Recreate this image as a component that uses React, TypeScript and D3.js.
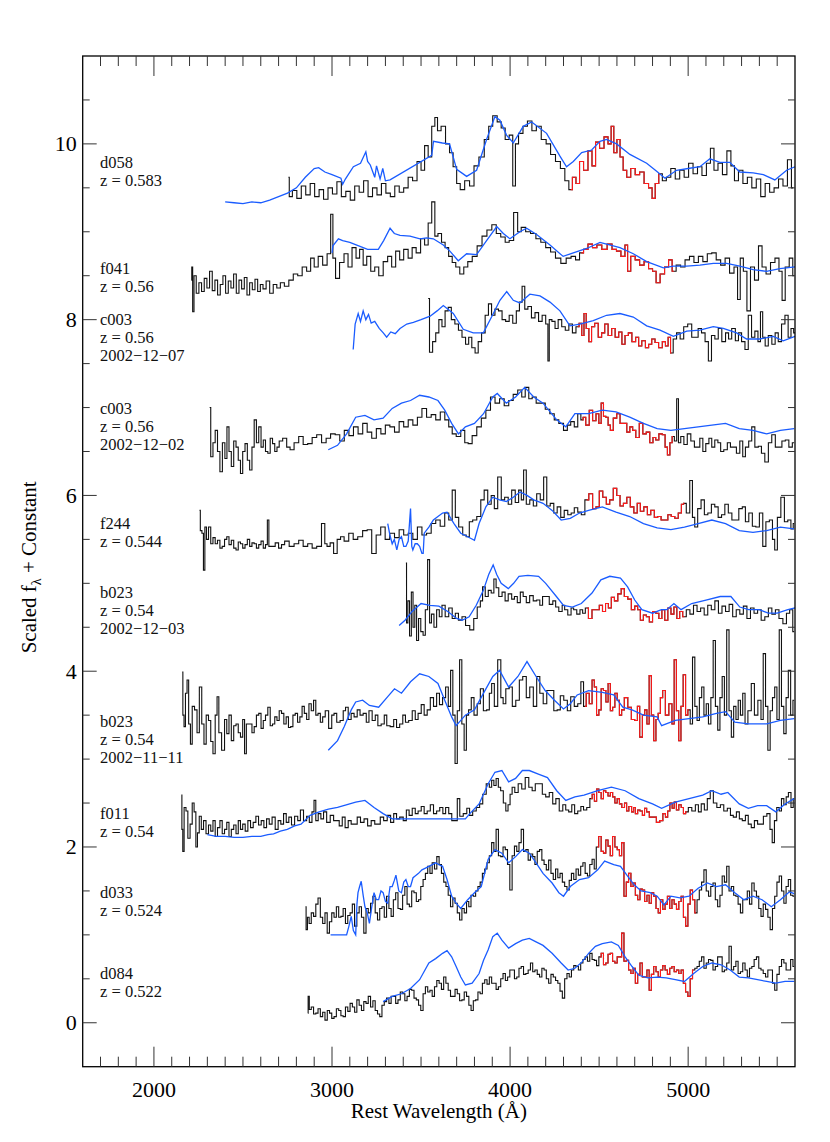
import React from 'react';
import * as d3 from 'd3';

// observed spectra (black, red inside the marked window) and fitted templates (blue)
// each point: [rest wavelength in Å, scaled flux + constant]

const d058Obs = [[2755,9.62],[2765,9.4],[2790,9.47],[2815,9.38],[2840,9.52],[2865,9.42],[2890,9.55],[2915,9.4],[2940,9.48],[2965,9.37],[2990,9.5],[3015,9.43],[3040,9.57],[3065,9.4],[3090,9.46],[3115,9.36],[3140,9.52],[3165,9.45],[3190,9.58],[3215,9.4],[3240,9.5],[3265,9.42],[3290,9.55],[3315,9.44],[3340,9.4],[3365,9.52],[3390,9.45],[3415,9.5],[3440,9.62],[3465,9.58],[3490,9.8],[3510,9.7],[3530,9.98],[3550,9.85],[3570,10.2],[3585,10.3],[3600,10.15],[3625,10.2],[3650,10.0],[3670,9.9],[3690,9.74],[3710,9.55],[3730,9.48],[3760,9.58],[3785,9.52],[3810,9.75],[3840,9.85],[3870,10.05],[3890,10.2],[3915,10.32],[3940,10.25],[3960,10.18],[3985,10.05],[4005,10.1],[4025,9.52],[4035,10.0],[4060,10.12],[4085,10.2],[4110,10.26],[4135,10.15],[4160,10.2],[4190,10.05],[4215,10.0],[4240,9.88],[4270,9.8],[4295,9.72],[4320,9.58],[4340,9.48],[4360,9.62],[4380,9.55],[4400,9.8],[4425,9.7],[4450,9.92],[4470,9.75],[4490,10.02],[4515,9.95],[4540,10.08],[4560,10.0],[4575,10.2],[4590,9.9],[4610,10.05],[4625,9.85],[4645,9.7],[4665,9.62],[4690,9.72],[4715,9.65],[4740,9.68],[4765,9.55],[4790,9.5],[4805,9.38],[4825,9.55],[4845,9.66],[4865,9.58],[4890,9.62],[4915,9.72],[4940,9.6],[4965,9.7],[4990,9.62],[5015,9.78],[5040,9.66],[5065,9.74],[5090,9.64],[5115,9.78],[5135,9.95],[5155,9.7],[5180,9.78],[5205,9.65],[5230,9.92],[5250,9.75],[5270,9.58],[5295,9.7],[5320,9.55],[5345,9.62],[5370,9.5],[5395,9.6],[5420,9.4],[5445,9.55],[5470,9.45],[5495,9.5],[5520,9.6],[5545,9.52],[5570,9.82],[5590,9.5]];
const d058Model = [[2400,9.34],[2450,9.33],[2500,9.32],[2550,9.34],[2600,9.33],[2650,9.36],[2700,9.4],[2750,9.44],[2800,9.5],[2850,9.62],[2900,9.72],[2925,9.73],[2960,9.68],[3000,9.65],[3050,9.61],[3060,9.54],[3075,9.6],[3120,9.74],[3160,9.78],[3190,9.91],[3200,9.8],[3215,9.76],[3240,9.62],[3250,9.75],[3270,9.6],[3285,9.72],[3300,9.58],[3326,9.59],[3560,9.87],[3570,10.03],[3620,10.01],[3660,10.0],[3700,9.71],[3756,9.63],[3812,9.7],[3868,10.05],[3915,10.31],[3943,10.27],[3980,10.1],[4018,10.01],[4074,10.2],[4121,10.25],[4205,10.12],[4280,9.86],[4317,9.74],[4355,9.8],[4402,9.9],[4458,9.93],[4505,10.03],[4542,10.05],[4598,10.0],[4673,9.88],[4767,9.78],[4823,9.69],[4870,9.61],[4935,9.7],[5000,9.72],[5066,9.74],[5122,9.83],[5178,9.79],[5234,9.79],[5290,9.68],[5365,9.67],[5422,9.65],[5487,9.59],[5553,9.7],[5600,9.74]];

const f041Obs = [[2210,8.45],[2215,8.6],[2220,8.09],[2230,8.5],[2245,8.3],[2260,8.42],[2275,8.32],[2290,8.47],[2305,8.36],[2320,8.55],[2335,8.33],[2350,8.45],[2365,8.28],[2380,8.4],[2395,8.5],[2410,8.3],[2425,8.44],[2440,8.36],[2455,8.52],[2470,8.3],[2485,8.45],[2500,8.35],[2515,8.48],[2530,8.28],[2545,8.42],[2560,8.34],[2575,8.46],[2590,8.32],[2605,8.4],[2620,8.35],[2640,8.44],[2660,8.3],[2680,8.4],[2700,8.36],[2720,8.42],[2745,8.38],[2770,8.45],[2795,8.52],[2820,8.5],[2845,8.6],[2870,8.55],[2890,8.7],[2910,8.6],[2935,8.72],[2960,8.62],[2985,8.75],[3000,9.2],[3010,8.7],[3030,8.47],[3055,8.65],[3080,8.75],[3100,8.6],[3125,8.82],[3145,8.7],[3165,8.8],[3185,8.62],[3205,8.72],[3230,8.55],[3250,8.6],[3275,8.5],[3300,8.66],[3325,8.72],[3345,8.6],[3370,8.78],[3390,8.68],[3415,8.8],[3440,8.7],[3460,8.82],[3485,8.76],[3510,8.92],[3530,8.85],[3550,9.1],[3570,9.34],[3585,8.95],[3605,8.98],[3625,8.88],[3645,8.82],[3665,8.72],[3685,8.65],[3705,8.6],[3730,8.52],[3750,8.6],[3775,8.66],[3800,8.72],[3830,8.84],[3855,8.95],[3885,9.02],[3910,9.08],[3935,8.98],[3960,8.94],[3985,8.88],[4005,8.9],[4035,9.22],[4050,9.0],[4075,9.05],[4100,9.0],[4130,8.98],[4160,8.92],[4185,8.88],[4215,8.82],[4240,8.77],[4270,8.7],[4300,8.64],[4330,8.7],[4355,8.72],[4380,8.68],[4400,8.76],[4425,8.8],[4450,8.86],[4475,8.82],[4500,8.85],[4530,8.8],[4560,8.86],[4585,8.8],[4610,8.78],[4635,8.72],[4655,8.85],[4665,8.55],[4690,8.72],[4715,8.68],[4740,8.62],[4765,8.66],[4790,8.58],[4810,8.55],[4830,8.42],[4855,8.52],[4880,8.6],[4900,8.68],[4920,8.55],[4945,8.62],[4970,8.6],[4995,8.68],[5020,8.72],[5045,8.65],[5070,8.72],[5095,8.66],[5120,8.75],[5145,8.76],[5170,8.68],[5195,8.62],[5220,8.7],[5245,8.53],[5270,8.6],[5285,8.23],[5300,8.7],[5320,8.55],[5340,8.1],[5360,8.6],[5385,8.45],[5405,8.84],[5425,8.6],[5450,8.52],[5475,8.65],[5500,8.7],[5520,8.55],[5535,8.22],[5555,8.6],[5580,8.7],[5595,8.5]];
const f041Model = [[3000,8.76],[3005,8.84],[3036,8.92],[3060,8.9],[3100,8.88],[3150,8.84],[3200,8.8],[3260,8.8],[3290,8.9],[3326,9.04],[3350,8.98],[3382,8.96],[3438,8.95],[3494,8.92],[3531,8.93],[3569,8.92],[3625,8.85],[3662,8.78],[3709,8.67],[3756,8.75],[3812,8.74],[3868,8.9],[3925,9.06],[3962,8.98],[3999,8.92],[4055,9.0],[4093,9.04],[4149,8.97],[4224,8.85],[4298,8.72],[4355,8.76],[4430,8.81],[4505,8.88],[4542,8.86],[4617,8.82],[4692,8.75],[4767,8.66],[4861,8.59],[4917,8.61],[4992,8.61],[5066,8.62],[5141,8.64],[5216,8.64],[5290,8.61],[5365,8.57],[5440,8.55],[5515,8.58],[5600,8.6]];

const c003bObs = [[3540,8.24],[3555,7.63],[3575,7.75],[3590,7.85],[3610,8.0],[3625,7.92],[3645,8.1],[3660,8.14],[3680,8.0],[3700,7.95],[3720,7.88],[3740,7.8],[3760,7.72],[3775,7.8],[3795,7.68],[3812,7.62],[3830,7.75],[3850,7.85],[3870,8.05],[3887,8.18],[3905,8.05],[3925,8.12],[3945,8.1],[3965,8.0],[3985,7.98],[4005,8.05],[4025,7.96],[4045,8.1],[4060,8.2],[4075,8.38],[4090,8.12],[4110,8.15],[4130,8.02],[4150,8.08],[4170,7.98],[4190,8.05],[4210,7.95],[4215,7.53],[4225,8.0],[4245,7.98],[4260,7.9],[4280,8.0],[4300,7.92],[4320,7.88],[4340,7.95],[4360,7.85],[4380,7.92],[4395,7.96],[4410,7.82],[4420,8.07],[4435,7.9],[4450,7.75],[4465,7.92],[4485,7.96],[4505,7.8],[4523,7.85],[4540,7.95],[4561,7.82],[4580,7.9],[4600,7.8],[4620,7.86],[4636,7.72],[4655,7.82],[4673,7.85],[4695,7.75],[4715,7.8],[4729,7.7],[4750,7.76],[4770,7.68],[4786,7.72],[4805,7.78],[4823,7.74],[4845,7.68],[4865,7.75],[4880,7.7],[4895,7.8],[4907,7.62],[4925,7.78],[4945,7.85],[4965,7.78],[4985,7.92],[5010,7.95],[5030,7.8],[5047,7.8],[5065,7.9],[5085,7.85],[5105,7.75],[5122,7.53],[5140,7.82],[5160,7.78],[5178,7.9],[5200,7.75],[5220,7.85],[5234,7.78],[5255,7.9],[5275,7.76],[5290,7.85],[5310,7.75],[5328,7.66],[5347,8.05],[5365,7.8],[5384,7.87],[5400,7.75],[5412,8.09],[5425,7.8],[5440,7.7],[5460,7.82],[5480,7.72],[5497,7.85],[5515,7.75],[5534,7.95],[5553,8.05],[5570,7.8],[5585,7.9],[5600,7.85]];
const c003bModel = [[3119,7.66],[3130,7.95],[3147,8.07],[3160,7.98],[3175,8.1],[3190,8.0],[3205,8.06],[3220,7.96],[3240,7.98],[3265,7.9],[3288,7.85],[3307,7.8],[3330,7.86],[3355,7.84],[3382,7.9],[3420,7.95],[3457,7.97],[3500,8.0],[3551,8.04],[3590,8.1],[3625,8.16],[3681,8.07],[3737,7.89],[3793,7.85],[3850,7.85],[3906,8.07],[3943,8.22],[3981,8.32],[4018,8.22],[4055,8.19],[4111,8.29],[4168,8.27],[4224,8.2],[4280,8.1],[4336,7.93],[4392,7.95],[4467,7.99],[4542,8.05],[4617,8.07],[4692,8.03],[4767,7.93],[4842,7.88],[4917,7.81],[4992,7.87],[5066,7.88],[5141,7.92],[5197,7.9],[5272,7.85],[5328,7.78],[5403,7.78],[5478,7.81],[5534,7.76],[5600,7.81]];

const c003aObs = [[2313,7.0],[2325,6.44],[2338,6.6],[2350,6.74],[2364,6.5],[2377,6.27],[2392,6.6],[2405,6.42],[2415,6.78],[2428,6.5],[2441,6.33],[2455,6.62],[2467,6.55],[2480,6.4],[2492,6.25],[2505,6.5],[2518,6.59],[2531,6.4],[2544,6.29],[2557,6.55],[2569,6.86],[2582,6.6],[2595,6.78],[2608,6.55],[2620,6.63],[2633,6.5],[2646,6.48],[2660,6.65],[2672,6.59],[2685,6.5],[2697,6.55],[2710,6.62],[2736,6.65],[2755,6.55],[2774,6.52],[2800,6.6],[2826,6.67],[2850,6.58],[2877,6.59],[2900,6.66],[2928,6.69],[2955,6.6],[2979,6.65],[3005,6.7],[3031,6.69],[3056,6.62],[3082,6.74],[3108,6.68],[3133,6.78],[3160,6.7],[3185,6.82],[3210,6.72],[3236,6.65],[3262,6.76],[3287,6.7],[3312,6.8],[3338,6.78],[3364,6.72],[3390,6.84],[3415,6.78],[3441,6.86],[3467,6.8],[3492,6.89],[3518,6.99],[3544,6.89],[3570,6.92],[3595,6.86],[3621,6.95],[3646,6.86],[3665,6.78],[3685,6.7],[3710,6.67],[3736,6.74],[3755,6.6],[3774,6.59],[3800,6.68],[3826,6.78],[3851,6.88],[3877,6.97],[3903,7.12],[3928,7.05],[3954,7.1],[3980,7.02],[4005,7.08],[4030,7.15],[4056,7.2],[4075,7.12],[4095,7.23],[4115,7.1],[4133,7.12],[4160,7.05],[4185,7.05],[4210,6.98],[4236,6.93],[4260,6.86],[4287,6.82],[4313,6.74],[4330,6.8],[4351,6.84],[4370,6.78],[4390,6.93],[4405,6.86],[4415,6.89],[4435,6.8],[4454,6.97],[4473,6.85],[4492,6.93],[4505,6.82],[4518,7.05],[4531,6.9],[4544,6.89],[4557,6.8],[4569,6.74],[4590,6.88],[4608,6.93],[4627,6.82],[4646,6.82],[4665,6.72],[4680,6.78],[4697,6.74],[4715,6.66],[4736,6.82],[4755,6.7],[4774,6.72],[4795,6.6],[4810,6.66],[4826,6.63],[4845,6.7],[4864,6.69],[4877,6.55],[4890,6.46],[4905,6.6],[4915,6.67],[4930,6.62],[4941,7.1],[4950,6.6],[4967,6.67],[4985,6.58],[5005,6.7],[5025,6.62],[5045,6.55],[5056,6.55],[5075,6.65],[5090,6.5],[5108,6.59],[5125,6.65],[5140,6.55],[5159,6.63],[5175,6.6],[5190,6.5],[5210,6.52],[5230,6.6],[5245,6.55],[5262,6.55],[5280,6.48],[5300,6.62],[5313,6.44],[5330,6.55],[5350,6.62],[5364,6.78],[5385,6.55],[5403,6.56],[5420,6.48],[5441,6.38],[5460,6.6],[5479,6.69],[5500,6.55],[5518,6.55],[5535,6.62],[5556,6.63],[5575,6.55],[5595,6.6]];
const c003aModel = [[2979,6.52],[3031,6.57],[3082,6.7],[3133,6.89],[3185,6.91],[3236,6.86],[3287,6.88],[3338,6.99],[3390,7.05],[3441,7.08],[3492,7.14],[3544,7.12],[3595,7.08],[3633,6.97],[3672,6.82],[3710,6.7],[3749,6.78],[3800,6.82],[3851,6.93],[3903,7.12],[3928,7.16],[3979,7.05],[4031,7.12],[4082,7.23],[4133,7.12],[4185,7.05],[4262,6.86],[4313,6.78],[4364,6.93],[4441,6.93],[4518,6.97],[4595,6.95],[4672,6.89],[4749,6.82],[4826,6.76],[4903,6.74],[4979,6.76],[5056,6.78],[5133,6.8],[5210,6.82],[5287,6.76],[5364,6.74],[5441,6.7],[5518,6.74],[5595,6.76]];

const f244Obs = [[2256,5.83],[2265,5.6],[2274,5.57],[2282,5.15],[2290,5.64],[2300,5.5],[2313,5.64],[2325,5.45],[2338,5.52],[2350,5.45],[2364,5.49],[2377,5.4],[2390,5.42],[2403,5.5],[2415,5.53],[2428,5.44],[2441,5.49],[2455,5.4],[2467,5.38],[2480,5.47],[2492,5.45],[2505,5.4],[2518,5.44],[2531,5.5],[2544,5.42],[2557,5.46],[2569,5.45],[2582,5.4],[2595,5.44],[2608,5.48],[2620,5.4],[2633,5.44],[2641,5.72],[2650,5.42],[2672,5.42],[2690,5.46],[2710,5.4],[2723,5.44],[2745,5.48],[2774,5.42],[2800,5.45],[2826,5.49],[2850,5.42],[2877,5.45],[2900,5.4],[2928,5.42],[2954,5.68],[2965,5.45],[2979,5.42],[3000,5.46],[3018,5.34],[3040,5.5],[3056,5.53],[3080,5.48],[3108,5.57],[3130,5.5],[3159,5.53],[3185,5.6],[3210,5.61],[3236,5.34],[3260,5.55],[3287,5.64],[3310,5.5],[3338,5.57],[3364,5.52],[3390,5.61],[3415,5.55],[3441,5.57],[3467,5.5],[3492,5.64],[3518,5.55],[3544,5.57],[3570,5.68],[3595,5.72],[3620,5.65],[3646,5.8],[3665,5.72],[3685,6.06],[3700,5.75],[3723,5.64],[3745,5.55],[3762,5.53],[3780,5.7],[3800,5.72],[3826,5.76],[3845,5.95],[3864,6.06],[3885,5.9],[3903,6.0],[3920,5.85],[3941,6.21],[3960,5.95],[3979,5.98],[4000,5.9],[4018,6.06],[4040,5.92],[4056,6.06],[4070,5.95],[4082,6.29],[4100,5.9],[4121,5.95],[4140,5.88],[4159,6.02],[4180,5.95],[4197,6.21],[4215,5.88],[4236,5.91],[4255,5.8],[4274,5.87],[4295,5.75],[4313,5.83],[4335,5.78],[4351,5.8],[4370,5.86],[4390,5.81],[4410,5.78],[4430,5.95],[4454,6.02],[4473,5.85],[4492,5.87],[4510,6.05],[4531,5.98],[4550,5.9],[4569,5.95],[4590,6.08],[4608,6.0],[4627,5.88],[4646,5.91],[4665,5.98],[4685,5.87],[4705,5.8],[4723,5.91],[4740,5.82],[4762,5.87],[4780,5.78],[4800,5.83],[4820,5.75],[4838,5.76],[4858,5.72],[4877,5.72],[4895,5.78],[4915,5.76],[4935,5.74],[4954,5.8],[4970,5.9],[4979,5.91],[5000,5.8],[5018,6.17],[5030,5.75],[5044,5.64],[5063,5.85],[5082,5.95],[5100,5.78],[5121,5.8],[5140,5.9],[5159,5.87],[5178,5.75],[5197,5.78],[5215,5.9],[5236,5.8],[5255,5.72],[5274,5.72],[5295,5.85],[5313,5.87],[5330,5.7],[5351,5.8],[5370,5.65],[5390,5.64],[5410,5.8],[5428,5.42],[5445,5.7],[5467,5.72],[5480,5.5],[5492,5.38],[5510,5.75],[5531,5.98],[5550,5.7],[5569,5.72],[5585,5.62],[5595,5.68]];
const f244Model = [[3313,5.68],[3325,5.55],[3338,5.45],[3350,5.5],[3364,5.38],[3377,5.5],[3390,5.53],[3403,5.42],[3415,5.42],[3428,5.48],[3441,5.85],[3448,5.42],[3454,5.38],[3467,5.45],[3479,5.45],[3492,5.42],[3505,5.34],[3512,5.34],[3518,5.57],[3544,5.64],[3569,5.72],[3595,5.76],[3621,5.8],[3646,5.81],[3685,5.68],[3723,5.57],[3762,5.53],[3800,5.49],[3826,5.68],[3864,5.87],[3903,5.98],[3941,5.95],[3979,5.93],[4018,5.98],[4056,6.04],[4095,6.0],[4133,5.95],[4185,5.91],[4236,5.83],[4287,5.72],[4338,5.74],[4390,5.8],[4441,5.83],[4518,5.87],[4595,5.81],[4672,5.76],[4749,5.68],[4826,5.63],[4903,5.61],[4979,5.64],[5056,5.68],[5133,5.72],[5210,5.68],[5287,5.6],[5364,5.58],[5441,5.6],[5518,5.64],[5595,5.62]];

const b023aObs = [[3415,5.23],[3422,4.55],[3430,4.8],[3441,4.4],[3450,4.9],[3460,4.5],[3470,4.75],[3480,4.35],[3492,4.6],[3505,4.45],[3518,4.41],[3530,4.7],[3544,5.27],[3552,4.55],[3565,4.65],[3580,4.5],[3595,4.7],[3610,4.62],[3625,4.75],[3646,4.62],[3665,4.72],[3685,4.6],[3700,4.66],[3720,4.58],[3740,4.62],[3760,4.52],[3787,4.47],[3805,4.6],[3826,4.73],[3840,4.8],[3851,4.96],[3870,4.85],[3885,4.92],[3903,4.89],[3915,5.05],[3928,4.95],[3945,4.85],[3965,4.9],[3979,4.8],[4000,4.88],[4018,4.82],[4031,4.85],[4050,4.78],[4065,4.9],[4082,4.85],[4100,4.78],[4120,4.86],[4140,4.8],[4159,4.81],[4175,4.75],[4190,4.85],[4210,4.85],[4230,4.76],[4250,4.8],[4262,4.73],[4285,4.68],[4300,4.75],[4313,4.7],[4335,4.64],[4350,4.72],[4364,4.7],[4385,4.65],[4400,4.7],[4415,4.66],[4430,4.72],[4450,4.6],[4470,4.7],[4492,4.7],[4510,4.75],[4528,4.68],[4544,4.77],[4560,4.72],[4577,4.84],[4595,4.8],[4615,4.88],[4633,4.94],[4650,4.85],[4672,4.82],[4690,4.7],[4710,4.74],[4723,4.7],[4740,4.58],[4757,4.64],[4774,4.62],[4790,4.56],[4810,4.68],[4826,4.66],[4845,4.6],[4860,4.7],[4877,4.58],[4895,4.72],[4912,4.65],[4928,4.73],[4945,4.6],[4960,4.68],[4979,4.62],[5000,4.7],[5020,4.65],[5040,4.75],[5060,4.68],[5080,4.72],[5100,4.64],[5120,4.75],[5140,4.7],[5160,4.8],[5180,4.66],[5200,4.74],[5220,4.68],[5240,4.76],[5260,4.62],[5280,4.7],[5300,4.65],[5320,4.74],[5340,4.6],[5360,4.72],[5380,4.66],[5400,4.7],[5420,4.58],[5441,4.62],[5460,4.72],[5480,4.65],[5500,4.7],[5520,4.6],[5544,4.54],[5560,4.66],[5580,4.7],[5595,4.45]];
const b023aModel = [[3377,4.52],[3410,4.58],[3450,4.68],[3500,4.77],[3550,4.75],[3600,4.74],[3650,4.68],[3700,4.6],[3730,4.58],[3770,4.62],[3810,4.75],[3850,4.92],[3880,5.1],[3905,5.21],[3925,5.1],[3950,5.0],[3990,4.94],[4020,5.0],[4050,5.08],[4100,5.09],[4160,5.08],[4200,5.0],[4260,4.85],[4300,4.75],[4350,4.73],[4400,4.77],[4460,4.89],[4510,5.04],[4560,5.08],[4620,5.06],[4660,4.96],[4700,4.81],[4740,4.7],[4800,4.66],[4850,4.7],[4880,4.7],[4920,4.77],[4960,4.7],[5020,4.77],[5100,4.81],[5180,4.85],[5240,4.85],[5290,4.73],[5340,4.7],[5400,4.7],[5450,4.66],[5500,4.66],[5560,4.7],[5600,4.72]];

const b023bObs = [[2159,3.99],[2166,3.5],[2172,3.37],[2182,3.75],[2190,3.9],[2200,3.4],[2210,3.17],[2220,3.6],[2236,3.56],[2248,3.3],[2262,3.82],[2275,3.4],[2287,3.17],[2300,3.5],[2313,3.44],[2325,3.2],[2338,3.06],[2350,3.5],[2359,3.71],[2370,3.3],[2390,3.1],[2403,3.45],[2415,3.29],[2428,3.5],[2441,3.21],[2455,3.38],[2467,3.4],[2480,3.3],[2492,3.25],[2505,3.45],[2513,3.06],[2525,3.4],[2544,3.4],[2557,3.3],[2569,3.37],[2582,3.5],[2595,3.52],[2608,3.35],[2620,3.44],[2633,3.5],[2646,3.59],[2660,3.38],[2672,3.4],[2685,3.48],[2697,3.44],[2710,3.55],[2723,3.52],[2736,3.4],[2749,3.48],[2762,3.36],[2774,3.37],[2787,3.5],[2800,3.52],[2813,3.42],[2826,3.48],[2838,3.6],[2851,3.52],[2864,3.45],[2877,3.63],[2890,3.55],[2903,3.67],[2915,3.5],[2928,3.52],[2941,3.42],[2954,3.48],[2970,3.55],[2992,3.35],[3005,3.5],[3018,3.52],[3035,3.42],[3056,3.44],[3070,3.55],[3082,3.59],[3100,3.45],[3115,3.52],[3133,3.48],[3150,3.56],[3165,3.5],[3185,3.52],[3200,3.42],[3215,3.55],[3236,3.44],[3250,3.5],[3265,3.38],[3287,3.4],[3300,3.5],[3315,3.38],[3338,3.37],[3355,3.45],[3370,3.36],[3390,3.4],[3405,3.5],[3420,3.42],[3441,3.44],[3460,3.55],[3475,3.45],[3492,3.52],[3510,3.62],[3525,3.5],[3544,3.56],[3560,3.7],[3580,3.6],[3595,3.75],[3612,3.62],[3630,3.7],[3646,3.82],[3660,3.6],[3672,4.01],[3685,3.5],[3697,2.95],[3710,3.55],[3723,4.13],[3735,3.4],[3749,3.1],[3760,3.5],[3774,3.56],[3790,3.7],[3805,3.5],[3826,3.63],[3840,3.8],[3860,3.55],[3877,3.56],[3890,3.75],[3903,3.86],[3920,3.6],[3941,4.13],[3955,3.7],[3967,3.63],[3985,3.8],[4005,3.82],[4020,3.6],[4044,3.67],[4060,3.9],[4082,3.94],[4100,3.7],[4121,3.82],[4140,3.6],[4159,3.94],[4175,3.75],[4197,3.63],[4215,3.78],[4236,3.78],[4255,3.55],[4274,3.56],[4290,3.72],[4313,3.67],[4330,3.55],[4351,3.71],[4370,3.6],[4390,3.63],[4405,3.88],[4420,3.6],[4435,3.75],[4454,3.63],[4467,3.9],[4479,3.82],[4492,3.5],[4505,3.56],[4518,3.8],[4531,3.78],[4545,3.65],[4556,3.86],[4570,3.55],[4582,3.59],[4595,3.75],[4608,3.67],[4620,3.5],[4633,3.56],[4650,3.7],[4672,3.59],[4690,3.45],[4710,3.44],[4720,3.6],[4736,3.25],[4750,3.5],[4762,3.56],[4775,3.4],[4787,3.95],[4800,3.5],[4813,3.21],[4825,3.45],[4838,3.52],[4850,3.7],[4864,3.78],[4880,3.5],[4903,3.63],[4915,3.4],[4928,4.13],[4940,3.55],[4954,3.21],[4965,3.6],[4979,3.96],[4992,3.5],[5005,3.56],[5018,3.4],[5031,4.16],[5044,3.6],[5056,3.44],[5070,3.7],[5082,3.82],[5095,3.5],[5108,3.63],[5120,3.4],[5135,3.7],[5146,4.35],[5160,3.6],[5172,3.33],[5185,3.7],[5197,3.94],[5210,3.5],[5223,4.47],[5236,3.55],[5249,3.25],[5262,3.6],[5275,3.45],[5287,3.67],[5300,3.5],[5313,3.75],[5326,3.4],[5345,3.55],[5364,3.86],[5380,3.5],[5403,3.67],[5415,3.45],[5428,4.2],[5441,3.6],[5454,3.1],[5467,3.55],[5480,3.7],[5492,3.82],[5505,3.45],[5518,4.47],[5530,3.6],[5544,3.29],[5556,3.7],[5569,4.01],[5582,3.5],[5595,3.67]];
const b023bModel = [[2979,3.1],[3031,3.21],[3069,3.37],[3108,3.56],[3133,3.65],[3172,3.67],[3210,3.61],[3262,3.59],[3313,3.71],[3351,3.8],[3390,3.75],[3441,3.88],[3492,3.97],[3544,3.94],[3595,3.86],[3633,3.67],[3672,3.48],[3697,3.38],[3749,3.5],[3800,3.56],[3851,3.75],[3903,3.94],[3941,4.01],[3992,3.82],[4044,3.94],[4095,4.11],[4146,3.94],[4197,3.78],[4249,3.67],[4300,3.57],[4338,3.63],[4377,3.73],[4441,3.78],[4518,3.76],[4582,3.73],[4633,3.59],[4685,3.56],[4749,3.5],[4826,3.48],[4851,3.38],[4928,3.44],[5005,3.46],[5082,3.48],[5159,3.52],[5210,3.54],[5262,3.42],[5338,3.4],[5441,3.4],[5518,3.44],[5595,3.46]];

const f011Obs = [[2154,2.59],[2160,2.2],[2164,1.95],[2175,2.45],[2185,2.41],[2196,2.1],[2210,2.26],[2220,2.5],[2231,2.4],[2240,2.0],[2249,2.16],[2260,2.35],[2272,2.2],[2285,2.3],[2300,2.15],[2313,2.25],[2325,2.18],[2338,2.3],[2350,2.12],[2364,2.22],[2377,2.3],[2390,2.15],[2403,2.2],[2415,2.28],[2428,2.12],[2441,2.2],[2455,2.25],[2467,2.15],[2480,2.3],[2492,2.2],[2505,2.26],[2520,2.18],[2535,2.3],[2550,2.22],[2565,2.28],[2580,2.35],[2595,2.25],[2610,2.3],[2625,2.22],[2640,2.32],[2655,2.26],[2672,2.34],[2690,2.2],[2705,2.3],[2720,2.26],[2736,2.38],[2750,2.28],[2765,2.34],[2780,2.25],[2800,2.35],[2815,2.3],[2830,2.42],[2850,2.3],[2865,2.35],[2880,2.28],[2895,2.4],[2903,2.53],[2915,2.3],[2930,2.38],[2945,2.32],[2960,2.4],[2980,2.28],[3000,2.36],[3018,2.3],[3031,2.3],[3050,2.24],[3065,2.34],[3082,2.22],[3100,2.3],[3115,2.26],[3133,2.26],[3150,2.34],[3170,2.28],[3190,2.32],[3210,2.24],[3230,2.3],[3250,2.26],[3262,2.26],[3280,2.34],[3300,2.3],[3320,2.36],[3338,2.28],[3355,2.38],[3370,2.32],[3390,2.34],[3410,2.3],[3425,2.42],[3441,2.36],[3460,2.44],[3475,2.38],[3492,2.41],[3510,2.46],[3525,2.38],[3544,2.41],[3560,2.48],[3580,2.38],[3595,2.41],[3615,2.45],[3630,2.38],[3646,2.45],[3665,2.38],[3680,2.3],[3697,2.3],[3710,2.55],[3725,2.35],[3749,2.38],[3765,2.44],[3780,2.36],[3800,2.41],[3820,2.45],[3838,2.49],[3855,2.6],[3877,2.72],[3890,2.68],[3903,2.76],[3915,2.7],[3928,2.78],[3940,2.68],[3954,2.64],[3970,2.5],[3982,2.41],[3995,2.48],[4005,2.6],[4018,2.68],[4035,2.62],[4056,2.72],[4075,2.66],[4095,2.79],[4115,2.68],[4133,2.64],[4150,2.72],[4172,2.72],[4190,2.6],[4210,2.57],[4230,2.62],[4249,2.49],[4265,2.55],[4287,2.41],[4305,2.48],[4320,2.42],[4338,2.4],[4355,2.48],[4370,2.38],[4390,2.41],[4405,2.46],[4420,2.42],[4441,2.45],[4455,2.55],[4467,2.6],[4480,2.52],[4492,2.66],[4505,2.62],[4518,2.55],[4531,2.64],[4544,2.62],[4556,2.58],[4570,2.62],[4582,2.57],[4595,2.5],[4608,2.55],[4620,2.49],[4635,2.45],[4650,2.5],[4659,2.41],[4675,2.46],[4690,2.4],[4697,2.45],[4710,2.38],[4723,2.42],[4736,2.41],[4750,2.36],[4760,2.44],[4774,2.4],[4790,2.34],[4813,2.34],[4830,2.28],[4851,2.3],[4865,2.38],[4880,2.34],[4890,2.41],[4905,2.5],[4915,2.44],[4928,2.51],[4940,2.42],[4955,2.48],[4967,2.45],[4980,2.38],[4992,2.4],[5010,2.45],[5031,2.41],[5050,2.48],[5065,2.4],[5082,2.49],[5100,2.42],[5115,2.55],[5133,2.64],[5150,2.5],[5172,2.45],[5190,2.48],[5210,2.41],[5230,2.44],[5245,2.36],[5262,2.34],[5280,2.4],[5295,2.32],[5313,2.3],[5330,2.36],[5345,2.26],[5364,2.22],[5380,2.3],[5400,2.26],[5415,2.26],[5430,2.35],[5454,2.38],[5465,2.2],[5479,2.05],[5490,2.3],[5505,2.45],[5518,2.41],[5530,2.55],[5545,2.48],[5556,2.57],[5570,2.62],[5585,2.45],[5595,2.55]];
const f011Model = [[2300,2.14],[2350,2.12],[2400,2.12],[2450,2.11],[2500,2.11],[2550,2.12],[2600,2.12],[2640,2.14],[2672,2.15],[2710,2.18],[2749,2.2],[2790,2.24],[2826,2.26],[2877,2.36],[2928,2.4],[2980,2.43],[3031,2.45],[3080,2.48],[3133,2.51],[3185,2.53],[3236,2.45],[3287,2.38],[3338,2.32],[3400,2.32],[3500,2.32],[3600,2.32],[3700,2.32],[3749,2.32],[3774,2.38],[3826,2.49],[3877,2.72],[3915,2.85],[3954,2.87],[3992,2.74],[4031,2.78],[4069,2.87],[4108,2.87],[4159,2.83],[4210,2.79],[4262,2.64],[4313,2.53],[4364,2.57],[4415,2.59],[4492,2.64],[4569,2.68],[4646,2.64],[4723,2.55],[4800,2.49],[4851,2.44],[4928,2.51],[5005,2.55],[5082,2.59],[5133,2.64],[5185,2.6],[5223,2.62],[5287,2.49],[5338,2.44],[5390,2.47],[5441,2.47],[5492,2.4],[5544,2.49],[5595,2.55]];

const d033Obs = [[2851,1.32],[2858,1.06],[2866,1.2],[2877,1.13],[2890,1.25],[2903,1.21],[2915,1.35],[2928,1.42],[2941,1.2],[2954,1.13],[2967,1.25],[2979,1.02],[2992,1.15],[3005,1.25],[3018,1.2],[3031,1.32],[3044,1.2],[3056,1.21],[3069,1.3],[3082,1.13],[3095,1.22],[3108,1.25],[3120,1.35],[3133,1.1],[3146,1.25],[3159,1.32],[3172,1.2],[3185,1.02],[3197,1.3],[3210,1.25],[3223,1.36],[3236,1.44],[3249,1.25],[3262,1.17],[3274,1.3],[3287,1.32],[3300,1.2],[3313,1.44],[3326,1.3],[3338,1.21],[3351,1.4],[3364,1.48],[3377,1.3],[3390,1.29],[3403,1.45],[3415,1.55],[3428,1.35],[3441,1.32],[3454,1.5],[3467,1.48],[3480,1.38],[3492,1.4],[3505,1.55],[3518,1.63],[3531,1.7],[3544,1.78],[3556,1.7],[3569,1.82],[3582,1.75],[3595,1.89],[3608,1.8],[3621,1.7],[3634,1.6],[3646,1.55],[3659,1.45],[3672,1.32],[3685,1.42],[3697,1.36],[3710,1.25],[3723,1.17],[3736,1.3],[3749,1.25],[3762,1.38],[3774,1.32],[3787,1.45],[3800,1.44],[3813,1.5],[3826,1.55],[3838,1.6],[3851,1.7],[3864,1.75],[3877,1.82],[3890,1.9],[3903,2.05],[3915,1.95],[3928,2.2],[3941,1.9],[3954,1.89],[3967,2.0],[3979,1.97],[3992,1.8],[4005,1.51],[4018,1.9],[4031,2.01],[4044,1.95],[4056,2.05],[4069,2.2],[4082,1.95],[4095,1.97],[4108,1.85],[4121,1.92],[4133,1.89],[4146,1.8],[4159,1.95],[4172,1.97],[4185,1.85],[4197,1.8],[4210,1.74],[4223,1.85],[4236,1.7],[4249,1.63],[4262,1.75],[4274,1.65],[4287,1.7],[4300,1.6],[4313,1.55],[4326,1.51],[4338,1.62],[4351,1.7],[4364,1.63],[4377,1.75],[4390,1.68],[4403,1.78],[4415,1.82],[4428,1.7],[4441,1.67],[4454,1.8],[4467,1.86],[4478,1.75],[4490,2.0],[4505,2.12],[4518,1.95],[4531,1.93],[4544,2.08],[4556,2.01],[4569,1.9],[4582,2.12],[4595,2.0],[4608,1.97],[4620,1.9],[4633,2.05],[4646,1.44],[4659,1.6],[4672,1.7],[4685,1.55],[4697,1.59],[4710,1.45],[4723,1.4],[4736,1.52],[4749,1.51],[4762,1.38],[4775,1.45],[4787,1.36],[4800,1.48],[4813,1.44],[4826,1.3],[4838,1.25],[4851,1.4],[4864,1.29],[4877,1.35],[4890,1.44],[4903,1.3],[4915,1.4],[4928,1.35],[4941,1.29],[4954,1.38],[4967,1.44],[4980,1.2],[4992,1.1],[5005,1.35],[5018,1.51],[5031,1.4],[5044,1.25],[5056,1.4],[5069,1.51],[5082,1.6],[5095,1.74],[5108,1.5],[5121,1.44],[5133,1.55],[5146,1.59],[5159,1.4],[5172,1.32],[5185,1.45],[5197,1.67],[5210,1.6],[5223,1.78],[5236,1.5],[5249,1.55],[5262,1.45],[5274,1.44],[5287,1.35],[5300,1.25],[5313,1.4],[5326,1.4],[5338,1.5],[5351,1.35],[5364,1.59],[5377,1.5],[5390,1.44],[5403,1.3],[5415,1.21],[5428,1.35],[5441,1.29],[5454,1.2],[5467,1.06],[5480,1.3],[5492,1.44],[5505,1.6],[5518,1.67],[5531,1.5],[5544,1.36],[5556,1.55],[5569,1.63],[5582,1.45],[5595,1.44]];
const d033Model = [[2992,1.0],[3040,1.0],[3082,1.0],[3095,1.1],[3108,1.21],[3120,1.05],[3133,1.0],[3140,1.35],[3146,1.48],[3155,1.55],[3164,1.61],[3175,1.45],[3185,1.32],[3198,1.25],[3210,1.13],[3222,1.3],[3236,1.48],[3249,1.4],[3262,1.4],[3275,1.5],[3287,1.48],[3300,1.38],[3313,1.36],[3326,1.55],[3338,1.55],[3350,1.62],[3359,1.68],[3375,1.5],[3390,1.48],[3403,1.6],[3415,1.63],[3428,1.55],[3441,1.55],[3455,1.65],[3467,1.67],[3486,1.7],[3505,1.74],[3525,1.76],[3544,1.78],[3563,1.8],[3582,1.82],[3600,1.8],[3621,1.78],[3646,1.63],[3672,1.44],[3697,1.36],[3723,1.3],[3762,1.4],[3800,1.48],[3838,1.55],[3877,1.86],[3915,1.97],[3954,1.93],[3992,1.82],[4031,1.89],[4069,1.97],[4108,1.93],[4146,1.82],[4185,1.7],[4236,1.59],[4274,1.48],[4300,1.44],[4338,1.55],[4390,1.63],[4441,1.65],[4492,1.74],[4531,1.84],[4582,1.8],[4620,1.78],[4659,1.67],[4697,1.57],[4736,1.5],[4787,1.48],[4826,1.44],[4864,1.34],[4903,1.44],[4954,1.42],[5005,1.44],[5056,1.53],[5108,1.59],[5159,1.55],[5210,1.57],[5262,1.48],[5313,1.4],[5364,1.44],[5415,1.4],[5467,1.32],[5518,1.4],[5569,1.49],[5595,1.47]];

const d084Obs = [[2864,0.11],[2868,0.3],[2877,0.15],[2890,0.18],[2903,0.1],[2915,0.11],[2928,0.16],[2941,0.07],[2954,0.12],[2967,0.03],[2980,0.14],[2992,0.11],[3005,0.05],[3018,0.07],[3031,0.16],[3044,0.14],[3056,0.08],[3069,0.07],[3082,0.18],[3095,0.13],[3108,0.22],[3121,0.18],[3133,0.12],[3146,0.26],[3159,0.2],[3172,0.14],[3185,0.24],[3197,0.22],[3210,0.3],[3223,0.18],[3236,0.25],[3249,0.14],[3262,0.1],[3274,0.07],[3287,0.2],[3300,0.24],[3313,0.28],[3326,0.22],[3338,0.3],[3351,0.3],[3364,0.22],[3377,0.26],[3390,0.35],[3403,0.33],[3415,0.25],[3428,0.3],[3441,0.38],[3454,0.37],[3467,0.28],[3480,0.26],[3492,0.2],[3505,0.14],[3518,0.33],[3531,0.41],[3544,0.35],[3556,0.37],[3569,0.3],[3582,0.41],[3595,0.48],[3608,0.45],[3621,0.38],[3633,0.52],[3646,0.45],[3659,0.37],[3672,0.3],[3685,0.3],[3697,0.38],[3710,0.33],[3723,0.25],[3736,0.26],[3749,0.35],[3762,0.3],[3775,0.2],[3787,0.14],[3800,0.25],[3813,0.26],[3826,0.35],[3838,0.33],[3851,0.45],[3864,0.49],[3877,0.44],[3890,0.52],[3903,0.45],[3915,0.45],[3928,0.38],[3941,0.41],[3954,0.5],[3967,0.56],[3980,0.48],[3992,0.52],[4005,0.6],[4018,0.6],[4031,0.5],[4044,0.52],[4056,0.62],[4069,0.64],[4082,0.55],[4095,0.56],[4108,0.6],[4121,0.68],[4133,0.58],[4146,0.6],[4159,0.55],[4172,0.52],[4185,0.62],[4197,0.6],[4210,0.5],[4223,0.45],[4236,0.55],[4249,0.52],[4262,0.48],[4274,0.45],[4287,0.36],[4300,0.28],[4313,0.5],[4326,0.56],[4338,0.52],[4351,0.6],[4364,0.65],[4377,0.64],[4390,0.6],[4403,0.68],[4415,0.72],[4428,0.75],[4441,0.7],[4454,0.79],[4467,0.72],[4479,0.71],[4492,0.65],[4505,0.75],[4518,0.79],[4531,0.66],[4544,0.68],[4556,0.78],[4569,0.79],[4582,0.7],[4595,0.68],[4608,0.75],[4620,0.75],[4633,1.02],[4646,0.7],[4659,0.71],[4672,0.6],[4685,0.56],[4697,0.62],[4710,0.45],[4723,0.55],[4736,0.68],[4749,0.52],[4762,0.52],[4775,0.6],[4787,0.37],[4800,0.55],[4813,0.64],[4826,0.58],[4838,0.52],[4851,0.6],[4864,0.65],[4877,0.6],[4890,0.55],[4903,0.62],[4915,0.64],[4928,0.58],[4941,0.6],[4954,0.56],[4967,0.6],[4979,0.45],[4992,0.35],[5005,0.3],[5018,0.5],[5031,0.6],[5044,0.62],[5056,0.64],[5069,0.7],[5082,0.75],[5095,0.62],[5108,0.68],[5121,0.72],[5133,0.71],[5146,0.6],[5159,0.64],[5172,0.75],[5185,0.75],[5197,0.58],[5210,0.6],[5223,0.68],[5236,0.87],[5249,0.6],[5262,0.64],[5274,0.7],[5287,0.56],[5300,0.58],[5313,0.68],[5326,0.6],[5338,0.52],[5351,0.62],[5364,0.64],[5377,0.72],[5390,0.75],[5403,0.62],[5415,0.6],[5428,0.56],[5441,0.52],[5454,0.6],[5467,0.6],[5480,0.45],[5492,0.37],[5505,0.55],[5518,0.64],[5531,0.72],[5544,0.68],[5556,0.6],[5569,0.6],[5582,0.72],[5595,0.64]];
const d084Model = [[3287,0.24],[3338,0.3],[3390,0.33],[3441,0.39],[3492,0.49],[3544,0.68],[3582,0.73],[3621,0.79],[3646,0.82],[3672,0.75],[3697,0.64],[3723,0.52],[3749,0.43],[3787,0.45],[3826,0.56],[3851,0.71],[3877,0.83],[3903,0.98],[3928,1.02],[3954,0.94],[3992,0.85],[4031,0.9],[4069,0.94],[4108,0.96],[4146,0.92],[4185,0.88],[4236,0.79],[4287,0.68],[4326,0.6],[4364,0.62],[4403,0.69],[4441,0.79],[4479,0.87],[4518,0.9],[4569,0.92],[4608,0.88],[4646,0.75],[4685,0.64],[4723,0.54],[4774,0.51],[4826,0.52],[4877,0.51],[4928,0.49],[4979,0.47],[5031,0.56],[5082,0.64],[5133,0.68],[5185,0.66],[5236,0.6],[5287,0.52],[5338,0.51],[5390,0.49],[5441,0.47],[5492,0.45],[5544,0.47],[5595,0.47]];

// per spectrum, top to bottom
const snNames = ['d058', 'f041', 'c003', 'c003', 'f244', 'b023', 'b023', 'f011', 'd033', 'd084'];
const snRedshifts = ['0.583', '0.56', '0.56', '0.56', '0.544', '0.54', '0.54', '0.54', '0.524', '0.522'];
const snDates = ['', '', '2002−12−07', '2002−12−02', '', '2002−12−03', '2002−11−11', '', '', ''];
const snLabelLevel = [9.72, 8.52, 7.94, 6.93, 5.62, 4.83, 3.37, 2.32, 1.42, 0.5];
const redWindows = [[4340, 4860], [4385, 4935], [4375, 4910], [4395, 4920], [4420, 4985], [4425, 4985], [4415, 5010], [4445, 4995], [4485, 5050], [4495, 5040]];
const observed = [d058Obs, f041Obs, c003bObs, c003aObs, f244Obs, b023aObs, b023bObs, f011Obs, d033Obs, d084Obs];
const models = [d058Model, f041Model, c003bModel, c003aModel, f244Model, b023aModel, b023bModel, f011Model, d033Model, d084Model];

const xMajor = [2000, 3000, 4000, 5000];
const yMajor = [0, 2, 4, 6, 8, 10];

const W = 830;
const H = 1142;
const L = 82.7, R = 795, T = 56, B = 1066.7;
const FONT = "'Liberation Serif', 'Times New Roman', Times, 'DejaVu Serif', serif";

export default function App() {
  const x = d3.scaleLinear().domain([1600, 5600]).range([L, R]);
  const y = d3.scaleLinear().domain([-0.5, 11]).range([B, T]);

  const stepLine = d3.line<number[]>().x(d => x(d[0])).y(d => y(d[1])).curve(d3.curveStep);
  const smoothLine = d3.line<number[]>().x(d => x(d[0])).y(d => y(d[1]));

  const xMinor = d3.range(1700, 5600, 100).filter(v => v % 1000 !== 0);
  const yMinor = d3.range(0, 11, 0.5).filter(v => v % 2 !== 0);

  const spectra = snNames.map((name, i) => ({
    name,
    z: snRedshifts[i],
    date: snDates[i],
    level: snLabelLevel[i],
    obs: observed[i],
    model: models[i],
    red: observed[i].filter(p => p[0] >= redWindows[i][0] && p[0] <= redWindows[i][1]),
  }));

  const tick = '#333';
  const lineGap = 18;
  const labelSize = 16.5;

  return (
    <svg width={W} height={H} style={{ position: 'absolute', left: 0, top: 0, background: '#fff', fontFamily: FONT }}>
      {spectra.map((s, i) => (
        <g key={i}>
          <path d={stepLine(s.obs) || ''} fill="none" stroke="#111" strokeWidth={1.1} />
          <path d={stepLine(s.red) || ''} fill="none" stroke="#ff1a1a" strokeWidth={1.1} />
          <path d={smoothLine(s.model) || ''} fill="none" stroke="#1a5cff" strokeWidth={1.3} />
          <text x={100} y={y(s.level)} fontSize={labelSize} fill="#111" style={{ fontFamily: FONT }}>{s.name}</text>
          <text x={100} y={y(s.level) + lineGap} fontSize={labelSize} fill="#111" style={{ fontFamily: FONT }}>{`z = ${s.z}`}</text>
          {s.date ? (
            <text x={100} y={y(s.level) + 2 * lineGap} fontSize={labelSize} fill="#111" style={{ fontFamily: FONT }}>{s.date}</text>
          ) : null}
        </g>
      ))}

      {/* frame */}
      <rect x={L} y={T} width={R - L} height={B - T} fill="none" stroke="#000" strokeWidth={1.3} />

      {/* x ticks, bottom and top */}
      {xMajor.map(v => (
        <g key={'xM' + v} stroke={tick} strokeWidth={1}>
          <line x1={x(v)} x2={x(v)} y1={B} y2={B - 20} />
          <line x1={x(v)} x2={x(v)} y1={T} y2={T + 20} />
        </g>
      ))}
      {xMinor.map(v => (
        <g key={'xm' + v} stroke={tick} strokeWidth={1}>
          <line x1={x(v)} x2={x(v)} y1={B} y2={B - 10} />
          <line x1={x(v)} x2={x(v)} y1={T} y2={T + 10} />
        </g>
      ))}
      {xMajor.map(v => (
        <text key={'xl' + v} x={x(v)} y={B + 30} fontSize={22} textAnchor="middle" fill="#000" style={{ fontFamily: FONT }}>{v}</text>
      ))}

      {/* y ticks, left and right */}
      {yMajor.map(v => (
        <g key={'yM' + v} stroke={tick} strokeWidth={1}>
          <line x1={L} x2={L + 14} y1={y(v)} y2={y(v)} />
          <line x1={R} x2={R - 14} y1={y(v)} y2={y(v)} />
        </g>
      ))}
      {yMinor.map(v => (
        <g key={'ym' + v} stroke={tick} strokeWidth={1}>
          <line x1={L} x2={L + 7} y1={y(v)} y2={y(v)} />
          <line x1={R} x2={R - 7} y1={y(v)} y2={y(v)} />
        </g>
      ))}
      {yMajor.map(v => (
        <text key={'yl' + v} x={L - 6} y={y(v) + 7.5} fontSize={22} textAnchor="end" fill="#000" style={{ fontFamily: FONT }}>{v}</text>
      ))}

      {/* axis titles */}
      <text x={(L + R) / 2} y={1118} fontSize={21} textAnchor="middle" fill="#000" style={{ fontFamily: FONT }}>Rest Wavelength (Å)</text>
      <text transform={`translate(36, ${(T + B) / 2 + 6}) rotate(-90)`} fontSize={21} textAnchor="middle" fill="#000" style={{ fontFamily: FONT }}>
        Scaled f<tspan fontSize={14} dy={5}>λ</tspan><tspan dy={-5}> + Constant</tspan>
      </text>
    </svg>
  );
}
